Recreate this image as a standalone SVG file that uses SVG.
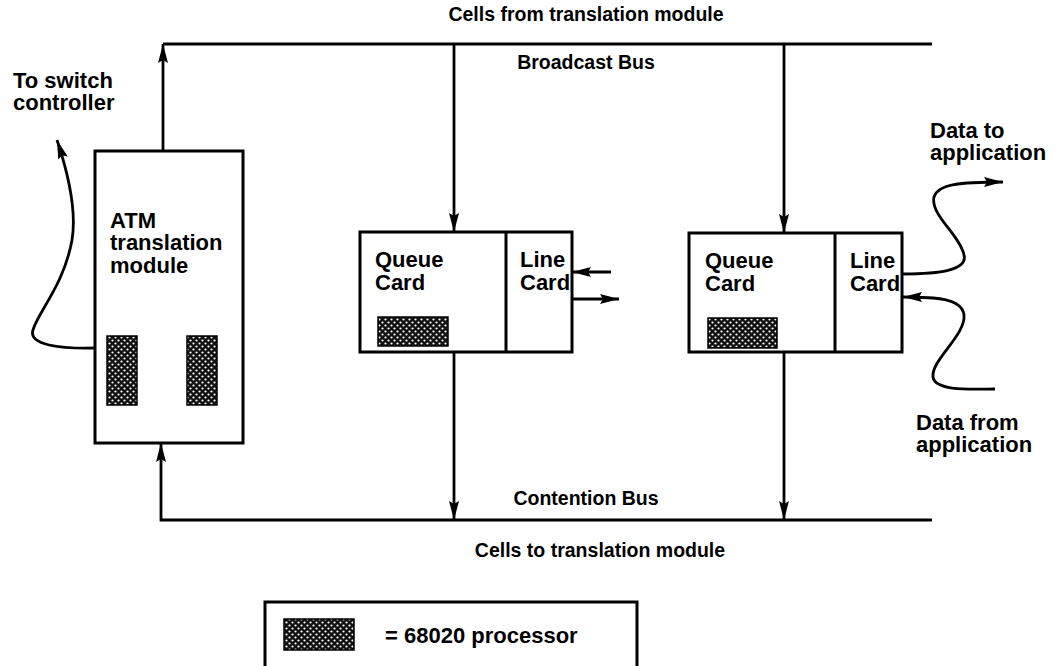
<svg xmlns="http://www.w3.org/2000/svg" width="1056" height="666" viewBox="0 0 1056 666">
  <style>
    text { font-family: "Liberation Sans", Arial, Helvetica, sans-serif; font-weight: bold; fill: #000; }
    .lbl { font-size: 22px; }
    .bus { font-size: 19.5px; }
    .box { fill: #fff; stroke: #000; stroke-width: 3; }
    .wire { fill: none; stroke: #000; stroke-width: 2.8; }
    .cpu { fill: url(#dots); stroke: #000; stroke-width: 1.5; }
  </style>
  <defs>
    <!-- staggered white dots on black: the 68020 processor fill -->
    <pattern id="dots" width="6" height="6" patternUnits="userSpaceOnUse">
      <rect width="6" height="6" fill="#111"/>
      <circle cx="1.5" cy="1.5" r="1.1" fill="#fff"/>
      <circle cx="4.5" cy="4.5" r="1.1" fill="#fff"/>
    </pattern>
    <marker id="head" markerUnits="userSpaceOnUse" markerWidth="19" markerHeight="10" refX="19" refY="5" orient="auto">
      <path d="M0,0 L19,5 L0,10 L3,5 z" fill="#000"/>
    </marker>
  </defs>

  <!-- bus labels -->
  <text class="bus" x="586" y="21" text-anchor="middle">Cells from translation module</text>
  <text class="bus" x="586" y="69" text-anchor="middle">Broadcast Bus</text>
  <text class="bus" x="586" y="505" text-anchor="middle">Contention Bus</text>
  <text class="bus" x="600" y="557" text-anchor="middle">Cells to translation module</text>

  <!-- connectors -->
  <g id="connectors">
    <!-- broadcast bus, fed from the translation module -->
    <path class="wire" d="M163,150 V44" marker-end="url(#head)"/>
    <path class="wire" d="M163,44 H932"/>
    <path class="wire" d="M454,44 V232" marker-end="url(#head)"/>
    <path class="wire" d="M784,44 V233" marker-end="url(#head)"/>
    <!-- contention bus, back to the translation module -->
    <path class="wire" d="M454,352 V520" marker-end="url(#head)"/>
    <path class="wire" d="M784,352 V520" marker-end="url(#head)"/>
    <path class="wire" d="M932,520 H161 V443" marker-end="url(#head)"/>
    <!-- switch controller link -->
    <path class="wire" d="M96,348 C60,349 28,345 33,330 C38,312 64,285 72,240 C77,210 67,170 57,140" marker-end="url(#head)"/>
    <!-- line card 1 stubs -->
    <path class="wire" d="M611,272 H572" marker-end="url(#head)"/>
    <path class="wire" d="M572,299 H619" marker-end="url(#head)"/>
    <!-- line card 2 application links -->
    <path class="wire" d="M903,274 C940,274 968,270 964,255 C960,235 930,215 934,197 C938,184 960,182 1003,182" marker-end="url(#head)"/>
    <path class="wire" d="M995,389 C975,389 935,392 933,377 C931,360 966,335 964,315 C962,298 935,297 903,297" marker-end="url(#head)"/>
  </g>

  <g id="switch-label">
    <text class="lbl" x="13" y="88">To switch</text>
    <text class="lbl" x="13" y="110">controller</text>
  </g>

  <g id="atm-module">
    <rect class="box" x="95" y="151" width="148" height="292"/>
    <text class="lbl" x="110" y="228">ATM</text>
    <text class="lbl" x="110" y="250">translation</text>
    <text class="lbl" x="110" y="273">module</text>
    <rect class="cpu" x="107" y="336" width="30" height="69"/>
    <rect class="cpu" x="187" y="336" width="30" height="69"/>
  </g>

  <g id="card-1">
    <rect class="box" x="360" y="232" width="212" height="120"/>
    <line x1="506" y1="232" x2="506" y2="352" stroke="#000" stroke-width="3"/>
    <text class="lbl" x="375" y="267">Queue</text>
    <text class="lbl" x="375" y="290">Card</text>
    <text class="lbl" x="520" y="267">Line</text>
    <text class="lbl" x="520" y="290">Card</text>
    <rect class="cpu" x="378" y="317" width="70" height="29"/>
  </g>

  <g id="card-2">
    <rect class="box" x="689" y="233" width="213" height="119"/>
    <line x1="835" y1="233" x2="835" y2="352" stroke="#000" stroke-width="3"/>
    <text class="lbl" x="705" y="268">Queue</text>
    <text class="lbl" x="705" y="291">Card</text>
    <text class="lbl" x="850" y="268">Line</text>
    <text class="lbl" x="850" y="291">Card</text>
    <rect class="cpu" x="708" y="318" width="69" height="30"/>
  </g>

  <g id="app-labels">
    <text class="lbl" x="930" y="138">Data to</text>
    <text class="lbl" x="930" y="160">application</text>
    <text class="lbl" x="916" y="430">Data from</text>
    <text class="lbl" x="916" y="452">application</text>
  </g>

  <g id="legend">
    <rect class="box" x="265" y="602" width="372" height="70"/>
    <rect class="cpu" x="284" y="619" width="70" height="31"/>
    <text class="lbl" x="385" y="643">= 68020 processor</text>
  </g>
</svg>
